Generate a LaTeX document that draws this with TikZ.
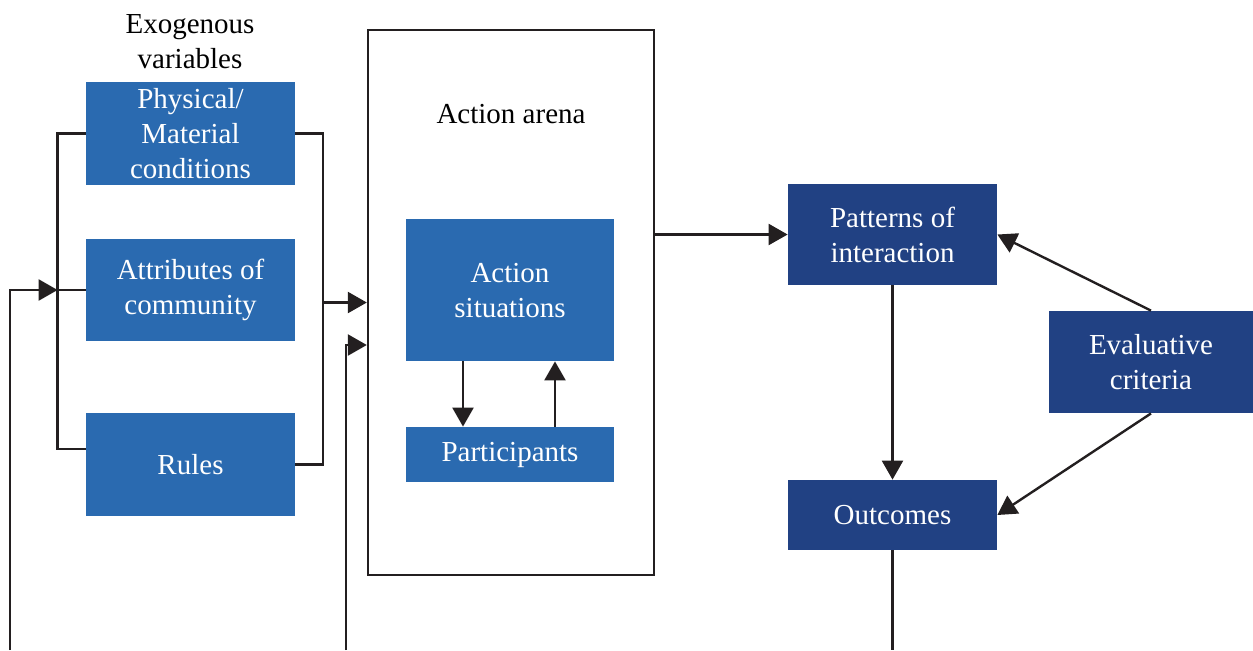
\documentclass[tikz,border=0pt]{standalone}
\usepackage{fontspec}
\setmainfont{Liberation Serif}
\usetikzlibrary{arrows.meta,positioning}
\definecolor{MidBlue}{RGB}{42,106,176}
\definecolor{DeepBlue}{RGB}{33,65,131}
\definecolor{LineGrey}{RGB}{35,31,32}

\tikzset{
	box/.style={fill=MidBlue,text=white,align=center,inner sep=0pt,
		font=\fontsize{14.5}{17.5}\selectfont},
	darkbox/.style={box,fill=DeepBlue},
	plain/.style={align=center,font=\fontsize{14.5}{17.5}\selectfont},
	link/.style={line width=1.2pt,LineGrey},
	arr/.style={link,-{Triangle[length=9.5pt,width=10.5pt]}}
}

\begin{document}
\begin{tikzpicture}[x=0.5pt,y=-0.5pt]
	\useasboundingbox (0,0) rectangle (1253,650);
	
	% exogenous variables
	\node[plain] (exo) at (190,42) {Exogenous\\variables};
	\node[box,minimum width=104.5pt,minimum height=51.5pt] (phys) at (190.5,133.5) {Physical/\\Material\\conditions};
	\node[box,minimum width=104.5pt,minimum height=51pt] (attr) at (190.5,290) {Attributes of\\community};
	\node[box,minimum width=104.5pt,minimum height=51.5pt] (rules) at (190.5,464.5) {Rules};
	
	% action arena
	\node[draw,line width=1.2pt,draw=LineGrey,minimum width=143pt,minimum height=272.5pt] (arena) at (511,302.5) {};
	\node[plain] (arenalbl) at (511,114) {Action arena};
	\node[box,minimum width=104pt,minimum height=71pt,text depth=-1pt] (sit) at (510,290) {Action\\situations};
	\node[box,minimum width=104pt,minimum height=27.5pt] (part) at (510,454.5) {Participants};
	
	% right part
	\node[darkbox,minimum width=104.5pt,minimum height=50.5pt] (pat) at (892.5,234.5) {Patterns of\\interaction};
	\node[darkbox,minimum width=104.5pt,minimum height=35pt] (out) at (892.5,515) {Outcomes};
	\node[darkbox,minimum width=102pt,minimum height=51pt] (eval) at (1151,362) {Evaluative\\criteria};
	
	% helper points
	\coordinate (lbar) at ([xshift=-14pt]attr.west);
	\coordinate (rbar) at (323,302.5);
	\coordinate (fbL) at (10,650);
	\coordinate (fbM) at (346,650);
	\coordinate (fbR) at (892.5,650);
	\coordinate (arenaIn) at ([yshift=-21.25pt]arena.west);
	
	% brackets
	\draw[link] (phys.west) -| (lbar) |- ([yshift=7.75pt]rules.west);
	\draw[link] (attr.west) -- (lbar);
	\draw[link] (phys.east) -| (rbar) |- (rules.east);
	\draw[arr] (rbar) -- (arena.west);
	
	% feedback lines
	\draw[arr] (fbL) |- (lbar);
	\draw[arr] (fbM) |- (arenaIn);
	\draw[link] (out.south) -- (fbR);
	
	% inside the arena
	\draw[arr] ([xshift=-23.5pt]sit.south) -- ([xshift=-23.5pt]part.north);
	\draw[arr] ([xshift=22.5pt]part.north) -- ([xshift=22.5pt]sit.south);
	
	% outputs
	\draw[arr] (arena.east |- pat.west) -- (pat.west);
	\draw[arr] (pat) -- (out);
	\draw[arr] (eval.north) -- (pat.east);
	\draw[arr] (eval.south) -- (out.east);
\end{tikzpicture}
\end{document}
